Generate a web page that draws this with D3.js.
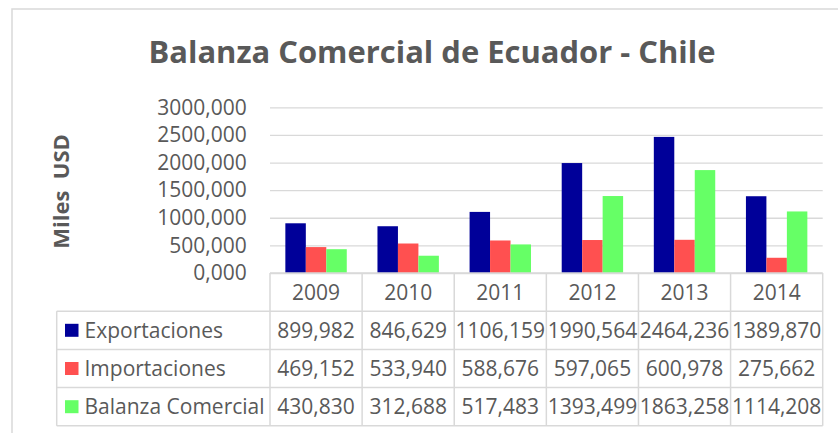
<!DOCTYPE html>
<html>
<head>
<meta charset="utf-8">
<script src="https://cdn.jsdelivr.net/npm/d3@7"></script>
<style>
  html, body { margin: 0; padding: 0; background: #fff; }
  svg { display: block; font-family: "Open Sans", sans-serif; }
</style>
</head>
<body>
<div id="chart"></div>
<script>
// values in miles de USD
const years = ['2009', '2010', '2011', '2012', '2013', '2014'];
const seriesNames = ['Exportaciones', 'Importaciones', 'Balanza Comercial'];
const exportaciones = [899.982, 846.629, 1106.159, 1990.564, 2464.236, 1389.870];
const importaciones = [469.152, 533.940, 588.676, 597.065, 600.978, 275.662];
const balanza = [430.830, 312.688, 517.483, 1393.499, 1863.258, 1114.208];
const yTicks = [0, 500, 1000, 1500, 2000, 2500, 3000];

const COLORS = ['#000099', '#ff5050', '#66ff66'];
const TEXT = '#595959';
const LINE = '#d9d9d9';

const width = 838;
const height = 433;

const margins = { left: 270, right: 15.3, top: 107.3, bottom: 160 };
const plotBottom = 273;
const rowH = 38.2;

const svg = d3.select('#chart')
  .append('svg')
    .attr('width', width)
    .attr('height', height);

// chart area border (top and left only are visible)
svg.append('path')
  .attr('d', 'M12,433 L12,9 L838,9')
  .attr('fill', 'none')
  .attr('stroke', LINE)
  .attr('stroke-width', 1.5);

svg.append('text')
  .attr('x', 432)
  .attr('y', 62.7)
  .attr('text-anchor', 'middle')
  .attr('font-size', 31)
  .attr('font-weight', 700)
  .attr('fill', TEXT)
  .attr('textLength', 567)
  .attr('lengthAdjust', 'spacingAndGlyphs')
  .text('Balanza Comercial de Ecuador - Chile');

const locale = d3.formatLocale({
  decimal: ',', thousands: '.', grouping: [3], currency: ['', '']
});
const fmt = locale.format('.3f');

const xScale = d3.scaleBand()
  .domain(years)
  .range([margins.left, width - margins.right]);

const xSeries = d3.scaleBand()
  .domain(seriesNames)
  .range([0, xScale.bandwidth()])
  .paddingInner(0)
  .paddingOuter(0.75);

const yScale = d3.scaleLinear()
  .domain([0, 3000])
  .range([plotBottom, margins.top]);

// gridlines + tick labels
const yAxis = d3.axisLeft(yScale)
  .tickValues(yTicks)
  .tickFormat(fmt)
  .tickSizeInner(-(xScale.range()[1] - xScale.range()[0]))
  .tickSizeOuter(0)
  .tickPadding(23.3);

const axisG = svg.append('g')
  .attr('transform', 'translate(' + margins.left + ',0)')
  .call(yAxis);

axisG.select('.domain').remove();
axisG.selectAll('.tick line')
  .attr('stroke', LINE)
  .attr('stroke-width', 1.3);
axisG.selectAll('.tick text')
  .attr('fill', TEXT)
  .attr('font-size', 21)
  .attr('font-family', '"Open Sans", sans-serif');

svg.append('text')
  .attr('transform', 'translate(61,191.5) rotate(-90)')
  .attr('text-anchor', 'middle')
  .attr('dy', '0.36em')
  .attr('font-size', 22)
  .attr('font-weight', 700)
  .attr('fill', TEXT)
  .attr('xml:space', 'preserve')
  .text('Miles  USD');

// bars
const seriesData = [exportaciones, importaciones, balanza];

seriesData.forEach((values, s) => {
  svg.append('g')
    .selectAll('rect')
    .data(values)
    .join('rect')
      .attr('x', (d, i) => xScale(years[i]) + xSeries(seriesNames[s]))
      .attr('y', d => yScale(d))
      .attr('width', xSeries.bandwidth())
      .attr('height', d => plotBottom - yScale(d))
      .attr('fill', COLORS[s]);
});

// data table
const table = svg.append('g');
const tableLeft = 56.7;
const tableRight = xScale.range()[1];
const headerBottom = plotBottom + rowH;
const tableBottom = headerBottom + rowH * seriesNames.length;

const hLines = [
  [margins.left, tableRight, plotBottom],
  [tableLeft, tableRight, headerBottom],
];
seriesNames.forEach((n, s) => {
  hLines.push([tableLeft, tableRight, headerBottom + rowH * (s + 1)]);
});

table.selectAll('line.h')
  .data(hLines)
  .join('line')
    .attr('class', 'h')
    .attr('x1', d => d[0])
    .attr('x2', d => d[1])
    .attr('y1', d => d[2])
    .attr('y2', d => d[2])
    .attr('stroke', LINE)
    .attr('stroke-width', 1.5);

const vLines = years.map(y => xScale(y)).concat([tableRight]);
table.selectAll('line.v')
  .data(vLines)
  .join('line')
    .attr('class', 'v')
    .attr('x1', d => d)
    .attr('x2', d => d)
    .attr('y1', plotBottom)
    .attr('y2', tableBottom)
    .attr('stroke', LINE)
    .attr('stroke-width', 1.5);

table.append('line')
  .attr('x1', tableLeft)
  .attr('x2', tableLeft)
  .attr('y1', headerBottom)
  .attr('y2', tableBottom)
  .attr('stroke', LINE)
  .attr('stroke-width', 1.5);

// year header
table.selectAll('text.year')
  .data(years)
  .join('text')
    .attr('class', 'year')
    .attr('x', d => xScale(d) + xScale.bandwidth() / 2)
    .attr('y', plotBottom + rowH / 2)
    .attr('dy', '0.36em')
    .attr('text-anchor', 'middle')
    .attr('font-size', 21)
    .attr('fill', TEXT)
    .text(d => d);

seriesNames.forEach((name, s) => {
  const cy = headerBottom + rowH * s + rowH / 2;

  table.append('rect')
    .attr('x', 65)
    .attr('y', cy - 6.5)
    .attr('width', 13.5)
    .attr('height', 13)
    .attr('fill', COLORS[s]);

  table.append('text')
    .attr('x', 84.5)
    .attr('y', cy)
    .attr('dy', '0.36em')
    .attr('font-size', 21)
    .attr('fill', TEXT)
    .text(name);

  table.append('g')
    .selectAll('text')
    .data(seriesData[s])
    .join('text')
      .attr('x', (d, i) => xScale(years[i]) + xScale.bandwidth() / 2)
      .attr('y', cy)
      .attr('dy', '0.36em')
      .attr('text-anchor', 'middle')
      .attr('font-size', 21)
      .attr('fill', TEXT)
      .text(d => fmt(d));
});
</script>
</body>
</html>
